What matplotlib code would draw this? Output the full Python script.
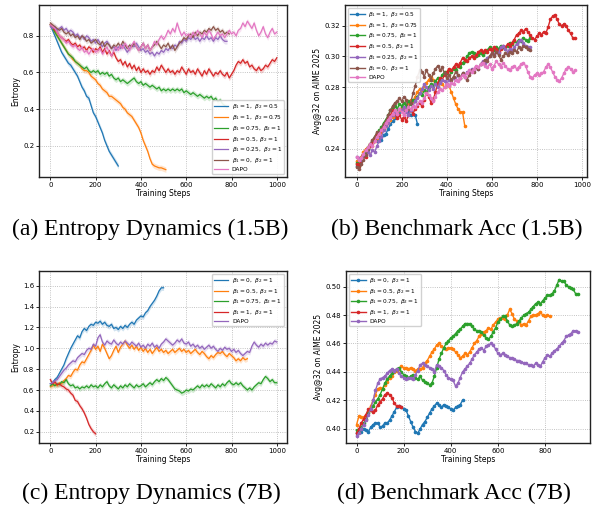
import numpy as np
import matplotlib
matplotlib.use("Agg")
import matplotlib.pyplot as plt

STEP = 10

# ---------------- (a) Entropy dynamics 1.5B ----------------
a_labels = [r"$\beta_1=1,\ \beta_2=0.5$", r"$\beta_1=1,\ \beta_2=0.75$",
            r"$\beta_1=0.75,\ \beta_2=1$", r"$\beta_1=0.5,\ \beta_2=1$",
            r"$\beta_1=0.25,\ \beta_2=1$", r"$\beta_1=0,\ \beta_2=1$", "DAPO"]
a_blue = [0.86,0.83,0.80,0.77,0.74,0.71,0.69,0.67,0.65,0.64,0.62,0.60,0.58,0.55,0.52,0.50,0.47,0.46,0.42,0.38,
          0.36,0.33,0.30,0.27,0.23,0.20,0.17,0.15,0.13,0.11,0.09]
a_orange = [0.86,0.84,0.82,0.80,0.78,0.76,0.74,0.72,0.70,0.69,0.67,0.66,0.65,0.64,0.62,0.61,0.61,0.60,0.58,0.57,
            0.56,0.54,0.53,0.51,0.50,0.49,0.47,0.47,0.46,0.45,0.44,0.43,0.41,0.40,0.38,0.37,0.36,0.34,0.32,0.30,
            0.27,0.23,0.20,0.17,0.13,0.10,0.09,0.085,0.08,0.08,0.075,0.07]
a_green = [0.86,0.84,0.82,0.80,0.78,0.76,0.74,0.72,0.70,0.69,0.68,0.66,0.65,0.64,0.63,0.62,0.63,0.61,0.60,0.61,
           0.60,0.61,0.59,0.60,0.59,0.60,0.58,0.59,0.57,0.56,0.57,0.55,0.56,0.55,0.54,0.55,0.56,0.57,0.55,0.54,
           0.55,0.53,0.54,0.53,0.52,0.53,0.52,0.51,0.52,0.50,0.51,0.50,0.51,0.50,0.51,0.50,0.51,0.50,0.51,0.49,
           0.50,0.49,0.48,0.49,0.48,0.47,0.48,0.47,0.46,0.47,0.46,0.47,0.45,0.46,0.44,0.45,0.43,0.42,0.41]
a_red = [0.86,0.85,0.83,0.82,0.80,0.79,0.78,0.77,0.78,0.76,0.75,0.76,0.74,0.75,0.73,0.74,0.72,0.74,0.73,0.71,
         0.73,0.72,0.74,0.71,0.73,0.70,0.72,0.69,0.71,0.68,0.66,0.67,0.64,0.66,0.63,0.65,0.62,0.64,0.61,0.63,
         0.60,0.62,0.60,0.61,0.59,0.61,0.60,0.63,0.61,0.64,0.62,0.60,0.62,0.60,0.61,0.59,0.61,0.60,0.63,0.61,
         0.59,0.62,0.60,0.61,0.59,0.62,0.60,0.58,0.61,0.59,0.62,0.60,0.58,0.60,0.59,0.61,0.59,0.58,0.60,0.57,
         0.59,0.61,0.64,0.66,0.65,0.67,0.65,0.66,0.63,0.64,0.62,0.61,0.63,0.61,0.62,0.64,0.63,0.65,0.67,0.66,0.68]
a_purple = [0.85,0.84,0.85,0.83,0.84,0.85,0.83,0.84,0.82,0.83,0.82,0.80,0.81,0.79,0.80,0.78,0.80,0.79,0.77,0.78,
            0.76,0.78,0.76,0.74,0.76,0.77,0.75,0.73,0.74,0.72,0.74,0.73,0.75,0.73,0.71,0.73,0.75,0.74,0.76,0.74,
            0.72,0.73,0.71,0.72,0.70,0.71,0.69,0.71,0.70,0.72,0.71,0.73,0.72,0.74,0.73,0.75,0.74,0.77,0.76,0.78,
            0.77,0.79,0.78,0.80,0.78,0.79,0.77,0.79,0.78,0.80,0.78,0.79,0.77,0.79,0.78,0.80,0.78,0.77,0.77]
a_brown = [0.87,0.86,0.85,0.84,0.83,0.84,0.82,0.81,0.82,0.80,0.81,0.79,0.80,0.78,0.80,0.79,0.77,0.78,0.76,0.77,
           0.78,0.76,0.75,0.77,0.74,0.76,0.75,0.73,0.75,0.74,0.76,0.74,0.77,0.75,0.73,0.75,0.74,0.76,0.74,0.72,
           0.74,0.76,0.73,0.75,0.72,0.74,0.75,0.77,0.75,0.73,0.75,0.74,0.76,0.73,0.75,0.72,0.74,0.76,0.77,0.79,
           0.78,0.80,0.81,0.79,0.82,0.80,0.82,0.81,0.83,0.82,0.84,0.83,0.85,0.83,0.84,0.82,0.83,0.81,0.82,0.81]
a_pink = [0.86,0.85,0.84,0.82,0.80,0.79,0.78,0.76,0.77,0.75,0.74,0.75,0.73,0.72,0.74,0.71,0.72,0.70,0.72,0.73,
          0.71,0.72,0.73,0.70,0.72,0.74,0.71,0.69,0.72,0.74,0.72,0.75,0.73,0.76,0.74,0.72,0.75,0.77,0.74,0.72,
          0.74,0.76,0.73,0.75,0.72,0.74,0.77,0.75,0.78,0.80,0.78,0.80,0.83,0.81,0.84,0.82,0.87,0.83,0.80,0.82,
          0.80,0.81,0.79,0.82,0.80,0.83,0.81,0.79,0.82,0.80,0.83,0.81,0.78,0.80,0.82,0.80,0.81,0.79,0.81,0.83,
          0.81,0.82,0.80,0.83,0.84,0.87,0.85,0.88,0.86,0.84,0.87,0.83,0.80,0.82,0.85,0.81,0.79,0.82,0.84,0.81,0.82]

# ---------------- (b) Benchmark acc 1.5B ----------------
b_blue = [0.229,0.231,0.234,0.236,0.238,0.240,0.242,0.244,0.246,0.245,0.247,0.246,0.249,0.250,0.253,0.256,0.258,
          0.260,0.262,0.264,0.266,0.265,0.267,0.264,0.262,0.263,0.262,0.256]
b_orange = [0.232,0.231,0.235,0.238,0.240,0.241,0.243,0.242,0.245,0.247,0.249,0.251,0.253,0.255,0.257,0.259,0.261,
            0.263,0.262,0.265,0.267,0.266,0.268,0.270,0.272,0.271,0.274,0.277,0.279,0.278,0.281,0.283,0.285,0.287,
            0.285,0.283,0.281,0.283,0.282,0.280,0.282,0.281,0.277,0.273,0.269,0.266,0.264,0.264,0.255]
b_green = [0.231,0.229,0.233,0.236,0.238,0.241,0.243,0.245,0.248,0.250,0.252,0.254,0.257,0.259,0.262,0.265,0.267,
           0.268,0.266,0.269,0.268,0.270,0.268,0.271,0.269,0.272,0.271,0.274,0.276,0.275,0.278,0.277,0.280,0.282,
           0.281,0.284,0.286,0.285,0.288,0.290,0.289,0.291,0.290,0.292,0.291,0.294,0.293,0.296,0.297,0.300,0.302,
           0.303,0.302,0.300,0.301,0.302,0.301,0.303,0.304,0.306,0.305,0.304,0.306,0.305,0.307,0.306,0.305,0.307,
           0.309,0.308,0.310,0.309,0.311,0.310,0.312,0.311,0.310,0.312]
b_red = [0.230,0.229,0.232,0.236,0.235,0.238,0.242,0.244,0.247,0.250,0.249,0.252,0.255,0.257,0.260,0.262,0.265,
         0.263,0.260,0.262,0.259,0.261,0.258,0.262,0.265,0.263,0.266,0.268,0.270,0.268,0.272,0.276,0.274,0.270,
         0.272,0.277,0.283,0.286,0.285,0.288,0.290,0.292,0.291,0.293,0.295,0.294,0.296,0.299,0.298,0.297,0.299,
         0.300,0.299,0.301,0.303,0.304,0.303,0.304,0.303,0.305,0.304,0.306,0.305,0.303,0.305,0.307,0.306,0.308,
         0.307,0.309,0.311,0.314,0.315,0.317,0.316,0.318,0.316,0.314,0.312,0.311,0.313,0.315,0.314,0.316,0.315,
         0.319,0.324,0.326,0.327,0.324,0.321,0.320,0.321,0.320,0.317,0.315,0.312,0.312]
b_purple = [0.235,0.234,0.233,0.236,0.239,0.238,0.236,0.239,0.238,0.242,0.245,0.248,0.252,0.255,0.257,0.260,0.262,
            0.264,0.263,0.266,0.265,0.267,0.264,0.262,0.265,0.268,0.271,0.273,0.276,0.279,0.282,0.280,0.278,0.281,
            0.279,0.282,0.280,0.283,0.285,0.284,0.282,0.285,0.283,0.286,0.285,0.288,0.286,0.289,0.287,0.290,0.289,
            0.292,0.291,0.293,0.292,0.295,0.297,0.296,0.299,0.300,0.302,0.301,0.303,0.302,0.306,0.307,0.305,0.303,
            0.305,0.304,0.306,0.308,0.310,0.311,0.309,0.307,0.306,0.306]
b_brown = [0.228,0.227,0.230,0.233,0.236,0.240,0.243,0.246,0.248,0.251,0.250,0.253,0.256,0.258,0.262,0.265,0.268,
           0.270,0.271,0.273,0.271,0.274,0.272,0.266,0.270,0.276,0.281,0.287,0.291,0.290,0.287,0.291,0.288,0.285,
           0.289,0.292,0.294,0.291,0.293,0.289,0.286,0.288,0.285,0.287,0.290,0.288,0.286,0.289,0.287,0.285,0.288,
           0.291,0.290,0.293,0.292,0.295,0.296,0.298,0.297,0.300,0.302,0.300,0.303,0.301,0.298,0.300,0.302,0.301,
           0.303,0.302,0.304,0.303,0.306,0.305,0.307,0.306,0.305,0.304]
b_pink = [0.235,0.233,0.234,0.237,0.239,0.241,0.243,0.242,0.245,0.248,0.250,0.252,0.254,0.257,0.259,0.261,0.263,
          0.265,0.263,0.266,0.264,0.262,0.265,0.267,0.266,0.268,0.267,0.269,0.271,0.270,0.273,0.276,0.275,0.273,
          0.271,0.274,0.277,0.279,0.278,0.280,0.282,0.281,0.283,0.282,0.285,0.284,0.286,0.288,0.287,0.289,0.291,
          0.290,0.292,0.294,0.293,0.295,0.296,0.294,0.293,0.295,0.292,0.294,0.297,0.295,0.293,0.296,0.294,0.292,
          0.291,0.293,0.294,0.292,0.293,0.295,0.296,0.294,0.290,0.287,0.286,0.288,0.289,0.288,0.289,0.290,0.293,
          0.295,0.293,0.290,0.287,0.285,0.284,0.286,0.289,0.292,0.293,0.292,0.290,0.291]

# ---------------- (c) Entropy dynamics 7B ----------------
c_labels = [r"$\beta_1=0,\ \beta_2=1$", r"$\beta_1=0.5,\ \beta_2=1$", r"$\beta_1=0.75,\ \beta_2=1$",
            r"$\beta_1=1,\ \beta_2=1$", "DAPO"]
c_blue = [0.66,0.67,0.70,0.72,0.76,0.80,0.84,0.90,0.95,1.00,1.04,1.08,1.12,1.10,1.16,1.19,1.17,1.21,1.23,1.22,
          1.25,1.24,1.26,1.23,1.25,1.22,1.21,1.23,1.19,1.20,1.18,1.21,1.19,1.22,1.20,1.23,1.25,1.23,1.27,1.29,
          1.31,1.30,1.34,1.36,1.40,1.43,1.46,1.50,1.55,1.58,1.58]
c_orange = [0.63,0.64,0.66,0.64,0.67,0.66,0.69,0.71,0.74,0.73,0.77,0.80,0.79,0.84,0.87,0.86,0.90,0.94,0.98,1.03,
            0.99,1.02,0.97,1.04,1.00,0.95,0.90,0.93,0.98,1.02,0.96,1.01,1.04,1.07,1.03,1.00,1.03,0.99,1.02,0.98,
            1.01,0.97,1.00,0.96,0.99,0.95,0.98,1.01,0.97,0.99,0.96,0.98,0.95,0.97,0.99,0.96,0.98,1.00,0.97,0.99,
            0.96,0.98,0.95,0.97,0.99,0.96,0.94,0.97,0.95,0.92,0.90,0.93,0.91,0.94,0.96,0.95,0.97,0.94,0.92,0.95,
            0.93,0.91,0.88,0.90,0.88,0.91,0.89,0.90]
c_green = [0.64,0.66,0.64,0.66,0.65,0.68,0.67,0.70,0.66,0.64,0.65,0.62,0.63,0.61,0.63,0.62,0.64,0.62,0.65,0.63,
           0.64,0.62,0.65,0.63,0.66,0.68,0.64,0.62,0.65,0.63,0.61,0.64,0.62,0.65,0.63,0.66,0.64,0.62,0.65,0.63,
           0.64,0.66,0.63,0.65,0.67,0.65,0.68,0.70,0.68,0.71,0.69,0.72,0.70,0.67,0.64,0.61,0.60,0.59,0.57,0.58,
           0.60,0.59,0.61,0.60,0.62,0.64,0.62,0.65,0.63,0.65,0.63,0.66,0.64,0.62,0.65,0.63,0.66,0.64,0.67,0.69,
           0.66,0.65,0.67,0.65,0.67,0.64,0.62,0.60,0.62,0.60,0.63,0.65,0.67,0.66,0.70,0.73,0.71,0.68,0.70,0.67,0.67]
c_red = [0.70,0.66,0.68,0.65,0.66,0.64,0.63,0.61,0.60,0.57,0.55,0.50,0.49,0.45,0.42,0.38,0.33,0.27,0.23,0.20,0.18]
c_purple = [0.66,0.67,0.69,0.70,0.73,0.76,0.79,0.81,0.84,0.86,0.88,0.87,0.91,0.93,0.95,0.94,0.98,1.00,0.99,1.04,
            1.02,1.10,1.13,1.06,1.03,1.07,1.05,1.04,1.08,1.05,1.03,1.06,1.04,1.07,1.05,1.03,1.06,1.04,1.02,1.05,
            1.01,1.03,1.00,1.04,1.02,1.05,1.01,1.03,1.00,1.04,1.06,1.09,1.07,1.05,1.03,1.05,1.08,1.06,1.09,1.05,
            1.04,1.06,1.02,1.04,1.01,1.03,1.00,1.02,0.99,1.01,1.03,1.00,1.02,0.99,0.97,1.00,0.98,1.01,0.99,1.00,
            0.97,0.99,0.96,0.98,0.95,0.93,0.95,0.97,0.96,1.02,1.06,1.03,1.01,1.04,1.02,1.05,1.03,1.05,1.04,1.07,1.06]

# ---------------- (d) Benchmark acc 7B ----------------
d_blue = [0.397,0.398,0.398,0.400,0.399,0.398,0.401,0.403,0.404,0.404,0.401,0.402,0.404,0.404,0.406,0.409,0.412,
          0.415,0.416,0.415,0.414,0.413,0.409,0.405,0.401,0.398,0.397,0.400,0.403,0.405,0.408,0.411,0.414,0.416,
          0.418,0.417,0.415,0.417,0.416,0.415,0.414,0.413,0.415,0.416,0.417,0.420]
d_orange = [0.403,0.409,0.408,0.408,0.410,0.412,0.416,0.420,0.424,0.428,0.429,0.428,0.431,0.433,0.436,0.437,0.440,
            0.441,0.442,0.444,0.443,0.443,0.442,0.443,0.442,0.441,0.442,0.442,0.443,0.446,0.448,0.451,0.454,0.456,
            0.459,0.460,0.458,0.457,0.456,0.457,0.457,0.456,0.454,0.452,0.450,0.451,0.453,0.452,0.454,0.457,0.460,
            0.462,0.465,0.467,0.468,0.469,0.471,0.470,0.473,0.475,0.477,0.478,0.478,0.477,0.480,0.484,0.481,0.477,
            0.476,0.475,0.473,0.474,0.473,0.476,0.479,0.480,0.480,0.481,0.482,0.480,0.479,0.480,0.479]
d_green = [0.399,0.398,0.401,0.404,0.407,0.411,0.413,0.416,0.419,0.421,0.424,0.428,0.432,0.435,0.437,0.439,0.441,
           0.442,0.443,0.440,0.438,0.437,0.436,0.437,0.438,0.436,0.435,0.437,0.434,0.433,0.432,0.431,0.432,0.437,
           0.443,0.449,0.453,0.457,0.460,0.462,0.464,0.465,0.467,0.469,0.470,0.472,0.474,0.474,0.474,0.472,0.470,
           0.469,0.469,0.468,0.466,0.464,0.463,0.465,0.468,0.471,0.475,0.477,0.479,0.479,0.476,0.473,0.472,0.473,
           0.474,0.476,0.478,0.480,0.481,0.482,0.484,0.486,0.488,0.489,0.488,0.490,0.492,0.494,0.494,0.495,0.497,
           0.501,0.505,0.504,0.504,0.501,0.500,0.499,0.498,0.495,0.495]
d_red = [0.397,0.400,0.404,0.407,0.410,0.414,0.413,0.412,0.413,0.417,0.419,0.421,0.424,0.425,0.424,0.422,0.418,
         0.416,0.416,0.415]
d_purple = [0.395,0.397,0.400,0.403,0.406,0.410,0.414,0.420,0.427,0.432,0.435,0.436,0.437,0.439,0.441,0.442,0.441,
            0.442,0.439,0.437,0.436,0.435,0.436,0.436,0.435,0.438,0.441,0.445,0.446,0.445,0.444,0.443,0.442,0.440,
            0.445,0.444,0.443,0.441,0.438,0.436,0.435,0.434,0.430,0.432,0.436,0.440,0.442,0.444,0.446,0.449,0.452,
            0.454,0.456,0.457,0.455,0.458,0.459,0.460,0.459,0.456,0.453,0.452,0.453,0.452,0.451,0.450,0.450,0.449,
            0.448,0.448,0.447,0.446,0.446,0.445,0.445,0.444,0.446,0.445,0.444,0.447,0.450,0.452,0.451,0.453,0.455,
            0.456,0.458,0.460,0.462,0.465,0.466,0.467,0.469,0.469,0.468]

captions = ["(a) Entropy Dynamics (1.5B)", "(b) Benchmark Acc (1.5B)",
            "(c) Entropy Dynamics (7B)", "(d) Benchmark Acc (7B)"]

C = ["#1f77b4", "#ff7f0e", "#2ca02c", "#d62728", "#9467bd", "#8c564b", "#e377c2"]

plt.rcParams["font.family"] = "DejaVu Sans"
plt.rcParams["mathtext.fontset"] = "dejavusans"

fig = plt.figure(figsize=(5.95, 5.09), dpi=100)
W, H = 595.0, 509.0

def mkax(l, r, t, b):
    return fig.add_axes([l / W, 1 - b / H, (r - l) / W, (b - t) / H])

ax_a = mkax(39, 287, 5, 177)
ax_b = mkax(345, 587, 5, 177)
ax_c = mkax(39, 287, 271, 443)
ax_d = mkax(346, 590, 271, 443)

def style(ax):
    ax.grid(True, linestyle=":", color="#b0b0b0", linewidth=0.6)
    ax.set_axisbelow(True)
    ax.tick_params(labelsize=5, length=2, width=0.6, pad=1.5)
    for s in ax.spines.values():
        s.set_linewidth(1.0)
        s.set_color("#222222")

def entropy_line(ax, vals, color, label, band):
    v = np.array(vals)
    x = np.arange(len(v)) * STEP
    ax.fill_between(x, v - band, v + band, color=color, alpha=0.2, linewidth=0)
    ax.plot(x, v, color=color, linewidth=0.9, label=label)

def acc_line(ax, vals, color, label):
    v = np.array(vals)
    x = np.arange(len(v)) * STEP
    ax.plot(x, v, color=color, linewidth=1.0, marker="o", markersize=1.6, label=label)

leg_kw = dict(fontsize=4.2, handlelength=2.5, labelspacing=0.3, borderpad=0.35,
              handletextpad=0.6, framealpha=0.9)

# (a)
for vals, col, lab in zip([a_blue, a_orange, a_green, a_red, a_purple, a_brown, a_pink], C, a_labels):
    entropy_line(ax_a, vals, col, lab, 0.015)
ax_a.set_xlim(-50, 1045)
ax_a.set_ylim(0.03, 0.968)
ax_a.set_yticks([0.2, 0.4, 0.6, 0.8])
ax_a.set_xticks([0, 200, 400, 600, 800, 1000])
ax_a.set_xlabel("Training Steps", fontsize=5.5, labelpad=1)
ax_a.set_ylabel("Entropy", fontsize=5.5, labelpad=2)
ax_a.legend(loc="lower right", **leg_kw)
style(ax_a)

# (b)
for vals, col, lab in zip([b_blue, b_orange, b_green, b_red, b_purple, b_brown, b_pink], C, a_labels):
    acc_line(ax_b, vals, col, lab)
ax_b.set_xlim(-52, 1023)
ax_b.set_ylim(0.2218, 0.3334)
ax_b.set_yticks([0.24, 0.26, 0.28, 0.30, 0.32])
ax_b.set_xticks([0, 200, 400, 600, 800, 1000])
ax_b.set_xlabel("Training Steps", fontsize=5.5, labelpad=1)
ax_b.set_ylabel("Avg@32 on AIME 2025", fontsize=5.5, labelpad=2)
ax_b.legend(loc="upper left", **leg_kw)
style(ax_b)

# (c)
for vals, col, lab in zip([c_blue, c_orange, c_green, c_red, c_purple], C[:5], c_labels):
    entropy_line(ax_c, vals, col, lab, 0.025)
ax_c.set_xlim(-50, 1045)
ax_c.set_ylim(0.092, 1.741)
ax_c.set_yticks([0.2, 0.4, 0.6, 0.8, 1.0, 1.2, 1.4, 1.6])
ax_c.set_xticks([0, 200, 400, 600, 800, 1000])
ax_c.set_xlabel("Training Steps", fontsize=5.5, labelpad=1)
ax_c.set_ylabel("Entropy", fontsize=5.5, labelpad=2)
ax_c.legend(loc="upper right", **leg_kw)
style(ax_c)

# (d)
for vals, col, lab in zip([d_blue, d_orange, d_green, d_red, d_purple], C[:5], c_labels):
    acc_line(ax_d, vals, col, lab)
ax_d.set_xlim(-45, 991)
ax_d.set_ylim(0.390, 0.511)
ax_d.set_yticks([0.40, 0.42, 0.44, 0.46, 0.48, 0.50])
ax_d.set_xticks([0, 200, 400, 600, 800])
ax_d.set_xlabel("Training Steps", fontsize=5.5, labelpad=1)
ax_d.set_ylabel("Avg@32 on AIME 2025", fontsize=5.5, labelpad=2)
ax_d.legend(loc="upper left", **leg_kw)
style(ax_d)

# captions
for (cx, cy), txt in zip([(150, 229), (457, 229), (151, 493), (454, 493)], captions):
    fig.text(cx / W, 1 - cy / H, txt, ha="center", va="center",
             fontsize=17, family="Liberation Serif")

fig.savefig("out.png", dpi=100)
